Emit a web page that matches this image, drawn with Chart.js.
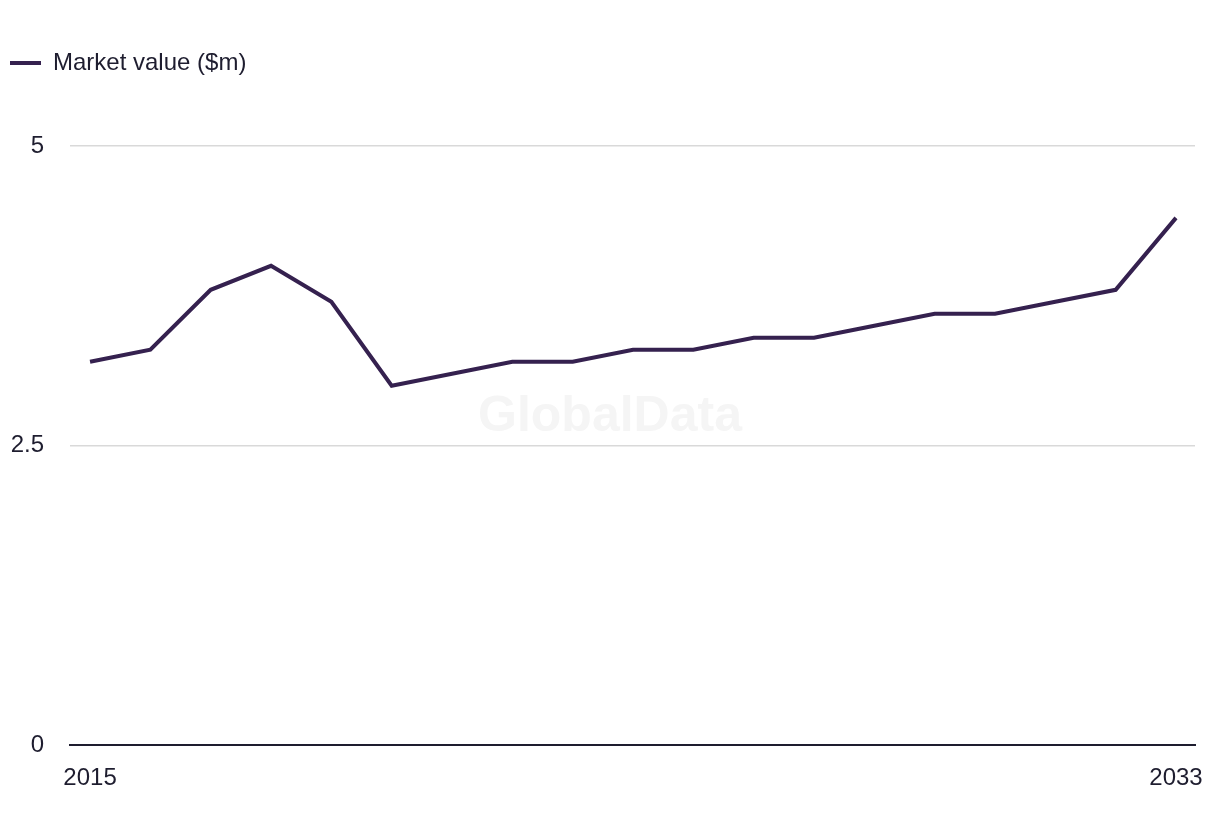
<!DOCTYPE html>
<html>
<head>
<meta charset="utf-8">
<script src="https://cdn.jsdelivr.net/npm/chart.js@4/dist/chart.umd.min.js"></script>
<style>
  html, body { margin: 0; padding: 0; background: #ffffff; }
  #wrap { width: 1220px; height: 836px; }
</style>
</head>
<body>
<div id="wrap"><canvas id="c" width="1220" height="836"></canvas></div>
<script>
const years = [2015, 2016, 2017, 2018, 2019, 2020, 2021, 2022, 2023, 2024, 2025, 2026, 2027, 2028, 2029, 2030, 2031, 2032, 2033];
const marketValue = [3.2, 3.3, 3.8, 4.0, 3.7, 3.0, 3.1, 3.2, 3.2, 3.3, 3.3, 3.4, 3.4, 3.5, 3.6, 3.6, 3.7, 3.8, 4.4];
const xTickYears = [2015, 2033];
const yTicks = [0, 2.5, 5];
const seriesLabel = 'Market value ($m)';
const watermark = 'GlobalData';

const FONT = "'Liberation Sans', Arial, sans-serif";
const TEXT = '#1e1d2f';
const LINE = '#35214f';

const watermarkPlugin = {
  id: 'watermark',
  beforeDatasetsDraw(chart) {
    const ctx = chart.ctx;
    ctx.save();
    ctx.font = "bold 50px " + FONT;
    ctx.fillStyle = '#f5f5f5';
    ctx.textAlign = 'center';
    ctx.textBaseline = 'middle';
    ctx.fillText(watermark, chart.width / 2, 417);
    ctx.restore();
  }
};

const legendGapPlugin = {
  id: 'legendGap',
  beforeLayout(chart) {
    const lg = chart.legend;
    if (lg && !lg._gapPatched) {
      const orig = lg.fit.bind(lg);
      lg.fit = function () { orig(); this.height += 61; };
      lg._gapPatched = true;
    }
  }
};

new Chart(document.getElementById('c'), {
  type: 'line',
  data: {
    datasets: [{
      label: seriesLabel,
      data: years.map((y, i) => ({ x: y, y: marketValue[i] })),
      borderColor: LINE,
      backgroundColor: LINE,
      borderWidth: 4,
      pointRadius: 0,
      tension: 0,
      fill: false
    }]
  },
  options: {
    responsive: false,
    animation: false,
    layout: { padding: { left: 0, right: 25, top: 41, bottom: 24 } },
    plugins: {
      legend: {
        display: true,
        position: 'top',
        align: 'start',
        labels: {
          usePointStyle: true,
          pointStyle: 'line',
          pointStyleWidth: 31,
          padding: 10,
          color: TEXT,
          font: { family: FONT, size: 24 }
        }
      },
      tooltip: { enabled: false }
    },
    scales: {
      x: {
        type: 'linear',
        min: 2014.668,
        max: 2033.315,
        afterBuildTicks: s => { s.ticks = xTickYears.map(v => ({ value: v })); },
        afterFit: s => { s.paddingLeft = 0; s.paddingRight = 0; },
        grid: { display: false, drawTicks: false },
        border: { display: true, color: TEXT, width: 2 },
        ticks: {
          padding: 19,
          maxRotation: 0,
          autoSkip: false,
          color: TEXT,
          font: { family: FONT, size: 24 },
          callback: v => String(v)
        }
      },
      y: {
        min: 0,
        max: 5,
        afterBuildTicks: s => { s.ticks = yTicks.map(v => ({ value: v })); },
        afterFit: s => { s.width = 70; },
        grid: { color: '#d9d9d9', lineWidth: 1.5, drawTicks: false },
        border: { display: false },
        ticks: {
          padding: 26,
          color: TEXT,
          font: { family: FONT, size: 24 },
          callback: v => String(v)
        }
      }
    }
  },
  plugins: [watermarkPlugin, legendGapPlugin]
});
</script>
</body>
</html>
